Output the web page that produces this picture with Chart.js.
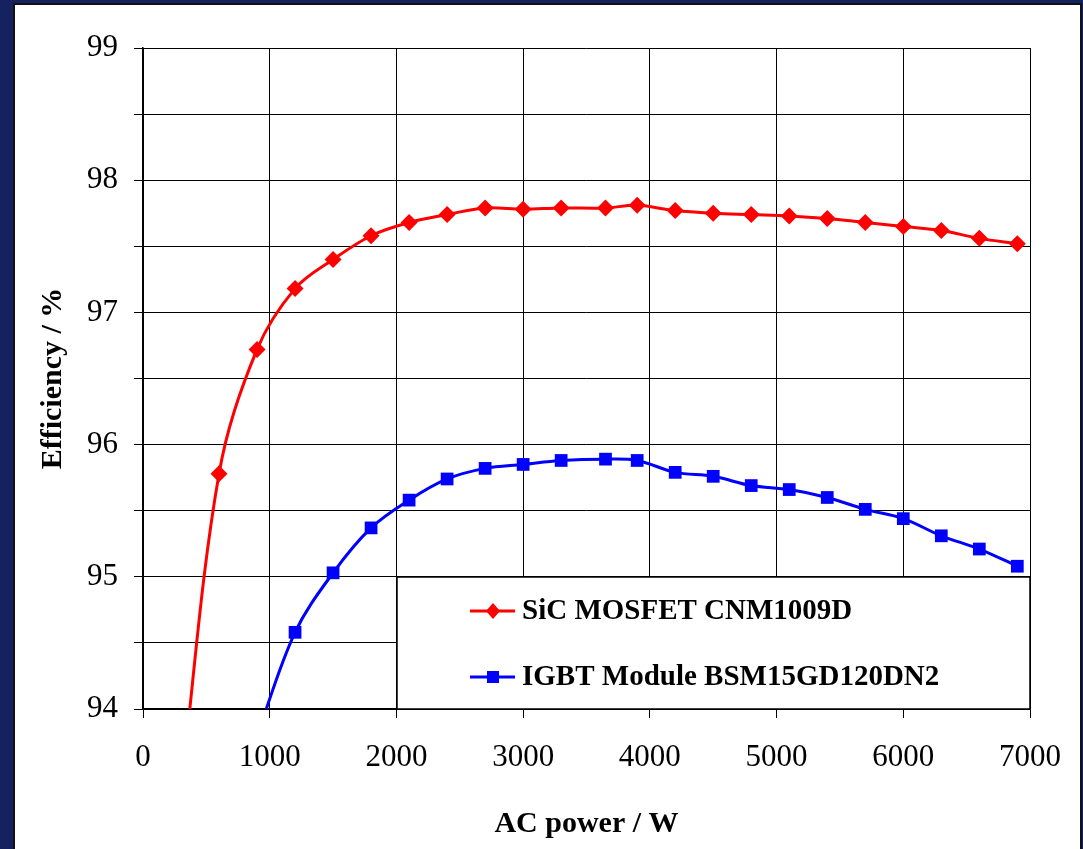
<!DOCTYPE html>
<html>
<head>
<meta charset="utf-8">
<title>Efficiency vs AC power</title>
<script src="https://cdn.jsdelivr.net/npm/chart.js@4.4.0/dist/chart.umd.min.js"></script>
<style>
  body { margin: 0; background: #15225f; }
  canvas { display: block; }
</style>
</head>
<body>
<canvas id="myChart" width="1083" height="849"></canvas>
<script>
'use strict';

// SiC MOSFET CNM1009D (first point sits below the axis and gets clipped)
let sicPower = [300, 600, 900, 1200, 1500, 1800, 2100, 2400, 2700, 3000, 3300, 3650, 3900,
  4200, 4500, 4800, 5100, 5400, 5700, 6000, 6300, 6600, 6900];
let sicEff = [93.4, 95.78, 96.72, 97.18, 97.40, 97.58, 97.68, 97.74, 97.79, 97.78, 97.79, 97.79, 97.81,
  97.77, 97.75, 97.74, 97.73, 97.71, 97.68, 97.65, 97.62, 97.56, 97.52];

// IGBT Module BSM15GD120DN2
let igbtPower = [900, 1200, 1500, 1800, 2100, 2400, 2700, 3000, 3300, 3650, 3900,
  4200, 4500, 4800, 5100, 5400, 5700, 6000, 6300, 6600, 6900];
let igbtEff = [93.8, 94.58, 95.03, 95.37, 95.58, 95.74, 95.82, 95.85, 95.88, 95.89, 95.88,
  95.79, 95.76, 95.69, 95.66, 95.60, 95.51, 95.44, 95.31, 95.21, 95.08];

let seriesNames = ['SiC MOSFET CNM1009D', 'IGBT Module BSM15GD120DN2'];
let xTitle = 'AC power / W';
let yTitle = 'Efficiency / %';

let serif = "'Times New Roman', 'Liberation Serif', serif";

function toPoints(xs, ys) {
  let pts = [];
  for (let i = 0; i < xs.length; i++) {
    pts.push({ x: xs[i], y: ys[i] });
  }
  return pts;
}

// slide background and white panel
let slidePlugin = {
  id: 'slide',
  beforeDraw(chart) {
    let ctx = chart.ctx;
    ctx.save();
    ctx.fillStyle = '#15225f';
    ctx.fillRect(0, 0, chart.width, chart.height);
    ctx.fillStyle = '#ffffff';
    ctx.fillRect(14, 4, 1067, 860);
    ctx.strokeStyle = '#111111';
    ctx.lineWidth = 2;
    ctx.strokeRect(14, 4, 1067, 860);
    ctx.restore();
  }
};

// boxed legend in the lower right corner of the plot
let legendBoxPlugin = {
  id: 'legendBox',
  beforeDatasetsDraw(chart) {
    let ctx = chart.ctx;
    let area = chart.chartArea;
    let left = area.left + 254;
    let top = area.bottom - 132;
    ctx.save();
    ctx.fillStyle = '#ffffff';
    ctx.fillRect(left, top, area.right - left, area.bottom - top);
    ctx.strokeStyle = '#000000';
    ctx.lineWidth = 1.5;
    ctx.strokeRect(left, top, area.right - left, area.bottom - top);

    let rows = [top + 34, top + 100];
    let colors = ['#ff0000', '#0000ff'];
    ctx.font = 'bold 29px ' + serif;
    ctx.textBaseline = 'middle';
    ctx.textAlign = 'left';
    for (let i = 0; i < rows.length; i++) {
      let y = rows[i];
      ctx.strokeStyle = colors[i];
      ctx.fillStyle = colors[i];
      ctx.lineWidth = 3;
      ctx.beginPath();
      ctx.moveTo(left + 73, y);
      ctx.lineTo(left + 118, y);
      ctx.stroke();
      let cx = left + 96;
      ctx.beginPath();
      if (i === 0) {
        ctx.moveTo(cx, y - 8);
        ctx.lineTo(cx + 7, y);
        ctx.lineTo(cx, y + 8);
        ctx.lineTo(cx - 7, y);
        ctx.closePath();
      } else {
        ctx.rect(cx - 6, y - 6, 12, 12);
      }
      ctx.fill();
      ctx.fillStyle = '#000000';
      ctx.fillText(seriesNames[i], left + 125, y + 1);
    }
    ctx.restore();
  }
};

let ctx = document.getElementById('myChart').getContext('2d');
let chart = new Chart(ctx, {
  type: 'line',
  data: {
    datasets: [{
      label: seriesNames[0],
      data: toPoints(sicPower, sicEff),
      borderColor: '#ff0000',
      backgroundColor: '#ff0000',
      borderWidth: 3,
      pointStyle: 'rectRot',
      pointRadius: 8.5,
      pointBorderWidth: 0,
      tension: 0.35
    }, {
      label: seriesNames[1],
      data: toPoints(igbtPower, igbtEff),
      borderColor: '#0000ff',
      backgroundColor: '#0000ff',
      borderWidth: 3,
      pointStyle: 'rect',
      pointRadius: 9,
      pointBorderWidth: 0,
      tension: 0.35
    }]
  },
  options: {
    responsive: false,
    animation: false,
    devicePixelRatio: 1,
    layout: { padding: { top: 48, right: 53, left: 20, bottom: 0 } },
    plugins: {
      legend: { display: false },
      tooltip: { enabled: false }
    },
    scales: {
      x: {
        type: 'linear',
        min: 0,
        max: 7000,
        afterFit(scale) { scale.height = 140; },
        ticks: {
          stepSize: 1000,
          color: '#000000',
          padding: 21,
          maxRotation: 0,
          font: { family: serif, size: 31 },
          callback: function (v) { return String(v); }
        },
        grid: { color: '#000000', lineWidth: 1, tickLength: 9, tickColor: '#000000' },
        border: { color: '#000000', width: 1.5 },
        title: {
          display: true,
          text: xTitle,
          color: '#000000',
          padding: { top: 0, bottom: 7 },
          font: { family: serif, size: 30, weight: 'bold', lineHeight: 1.2 }
        }
      },
      y: {
        min: 94,
        max: 99,
        afterFit(scale) { scale.width = 123; },
        ticks: {
          stepSize: 0.5,
          color: '#000000',
          padding: 16,
          font: { family: serif, size: 31 },
          callback: function (v) { return v % 1 === 0 ? v : ''; }
        },
        grid: { color: '#000000', lineWidth: 1, tickLength: 9, tickColor: '#000000' },
        border: { color: '#000000', width: 1.5 },
        title: {
          display: true,
          text: yTitle,
          color: '#000000',
          padding: { top: 15, bottom: 0 },
          font: { family: serif, size: 30, weight: 'bold', lineHeight: 1.2 }
        }
      }
    }
  },
  plugins: [slidePlugin, legendBoxPlugin]
});
</script>
</body>
</html>
